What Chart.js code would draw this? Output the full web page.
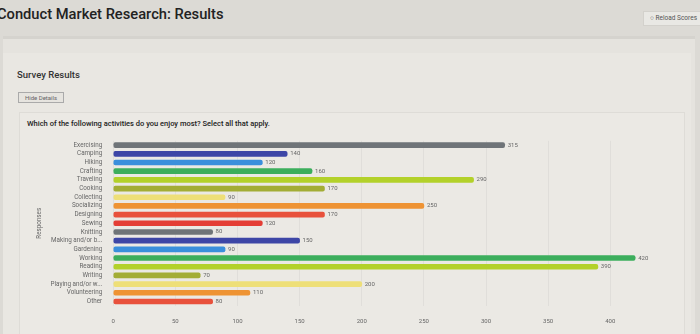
<!DOCTYPE html>
<html>
<head>
<meta charset="utf-8">
<script src="https://cdn.jsdelivr.net/npm/chart.js@4/dist/chart.umd.min.js"></script>
<style>
    html, body { margin: 0; padding: 0; }
    body {
        width: 700px; height: 334px; overflow: hidden; position: relative;
        background: #dcdad5; font-family: Roboto, "Noto Sans", sans-serif; color: #2a2a2a;
    }
    .title { position: absolute; left: -3px; top: 5px; font-size: 14.7px; font-weight: 500; color: #222; }
    .reload {
        position: absolute; left: 643px; top: 11px; width: 70px; height: 15px; box-sizing: border-box;
        background: #e9e8e4; border: 1px solid #d3d1cc; font-size: 6.5px; color: #555; line-height: 13px; padding-left: 6px;
    }
    .panel { position: absolute; left: 3px; top: 36px; width: 692px; height: 310px; background: #e5e3de; border-top: 3px solid #d5d3ce; }
    .panel2 { position: absolute; left: 3px; top: 53px; width: 688px; height: 300px; background: #e9e7e2; }
    .sub { position: absolute; left: 17px; top: 69px; font-size: 9.5px; font-weight: 500; color: #333; }
    .hide {
        position: absolute; left: 18px; top: 92px; width: 46px; height: 11px; box-sizing: border-box;
        border: 1px solid #aaa; font-size: 6px; color: #666; line-height: 9px; text-align: center; background: #e6e4df;
    }
    .box { position: absolute; left: 19px; top: 112px; width: 664px; height: 230px; background: #ebe9e4; border: 1px solid #dedcd7; }
    .q { position: absolute; left: 27px; top: 119px; font-size: 7.5px; font-weight: 500; color: #222; }
    .wrap { position: absolute; left: 32px; top: 134px; width: 628px; height: 203px; }
</style>
</head>
<body>
<div class="title">Conduct Market Research: Results</div>
<div class="reload">&#9675; Reload Scores</div>
<div class="panel"></div>
<div class="panel2"></div>
<div class="sub">Survey Results</div>
<div class="hide">Hide Details</div>
<div class="box"></div>
<div class="q">Which of the following activities do you enjoy most? Select all that apply.</div>
<div class="wrap"><canvas id="chart"></canvas></div>
<script>
// danh mục và số phản hồi
var categories = ["Exercising", "Camping", "Hiking", "Crafting", "Traveling", "Cooking", "Collecting",
    "Socializing", "Designing", "Sewing", "Knitting", "Making and/or b...", "Gardening", "Working",
    "Reading", "Writing", "Playing and/or w...", "Volunteering", "Other"];
var responses = [315, 140, 120, 160, 290, 170, 90, 250, 170, 120, 80, 150, 90, 420, 390, 70, 200, 110, 80];
var palette = ["#6f7478", "#3d46a6", "#3a8fdc", "#3cae5c", "#b3d12a", "#a3ad35", "#eedf78",
    "#ee9333", "#e8513c", "#e43e35"];
var xTicks = [0, 50, 100, 150, 200, 250, 300, 350, 400];

var barColors = categories.map(function (c, i) { return palette[i % palette.length]; });

// plugin vẽ số liệu ở cuối thanh
var valueLabels = {
    id: 'valueLabels',
    afterDatasetsDraw: function (chart) {
        var ctx = chart.ctx;
        var meta = chart.getDatasetMeta(0);
        ctx.save();
        ctx.font = '6px Roboto, sans-serif';
        ctx.fillStyle = '#666';
        ctx.textBaseline = 'middle';
        meta.data.forEach(function (bar, i) {
            ctx.fillText(responses[i], bar.x + 3, bar.y);
        });
        ctx.restore();
    }
};

var ctx = document.getElementById('chart').getContext('2d');
new Chart(ctx, {
    type: 'bar',
    data: {
        labels: categories,
        datasets: [{
            data: responses,
            backgroundColor: barColors,
            barThickness: 5,
            borderRadius: 2,
            borderSkipped: false
        }]
    },
    options: {
        indexAxis: 'y',
        responsive: true,
        maintainAspectRatio: false,
        animation: false,
        layout: { padding: { top: 2, right: 0, bottom: 0, left: 0 } },
        plugins: { legend: { display: false }, tooltip: { enabled: false } },
        scales: {
            x: {
                min: 0,
                max: 440,
                afterBuildTicks: function (axis) {
                    axis.ticks = xTicks.map(function (v) { return { value: v }; });
                },
                grid: { color: 'rgba(0,0,0,0.045)', drawTicks: false },
                border: { display: false },
                ticks: { color: '#666', font: { size: 6, family: 'Roboto' }, padding: 12 }
            },
            y: {
                grid: { display: false },
                border: { display: false },
                ticks: { color: '#666', font: { size: 6.3, family: 'Roboto' }, padding: 3, autoSkip: false },
                title: { display: true, text: 'Responses', color: '#666', font: { size: 6.3, family: 'Roboto' }, padding: { bottom: 4 } }
            }
        }
    },
    plugins: [valueLabels]
});
</script>
</body>
</html>
